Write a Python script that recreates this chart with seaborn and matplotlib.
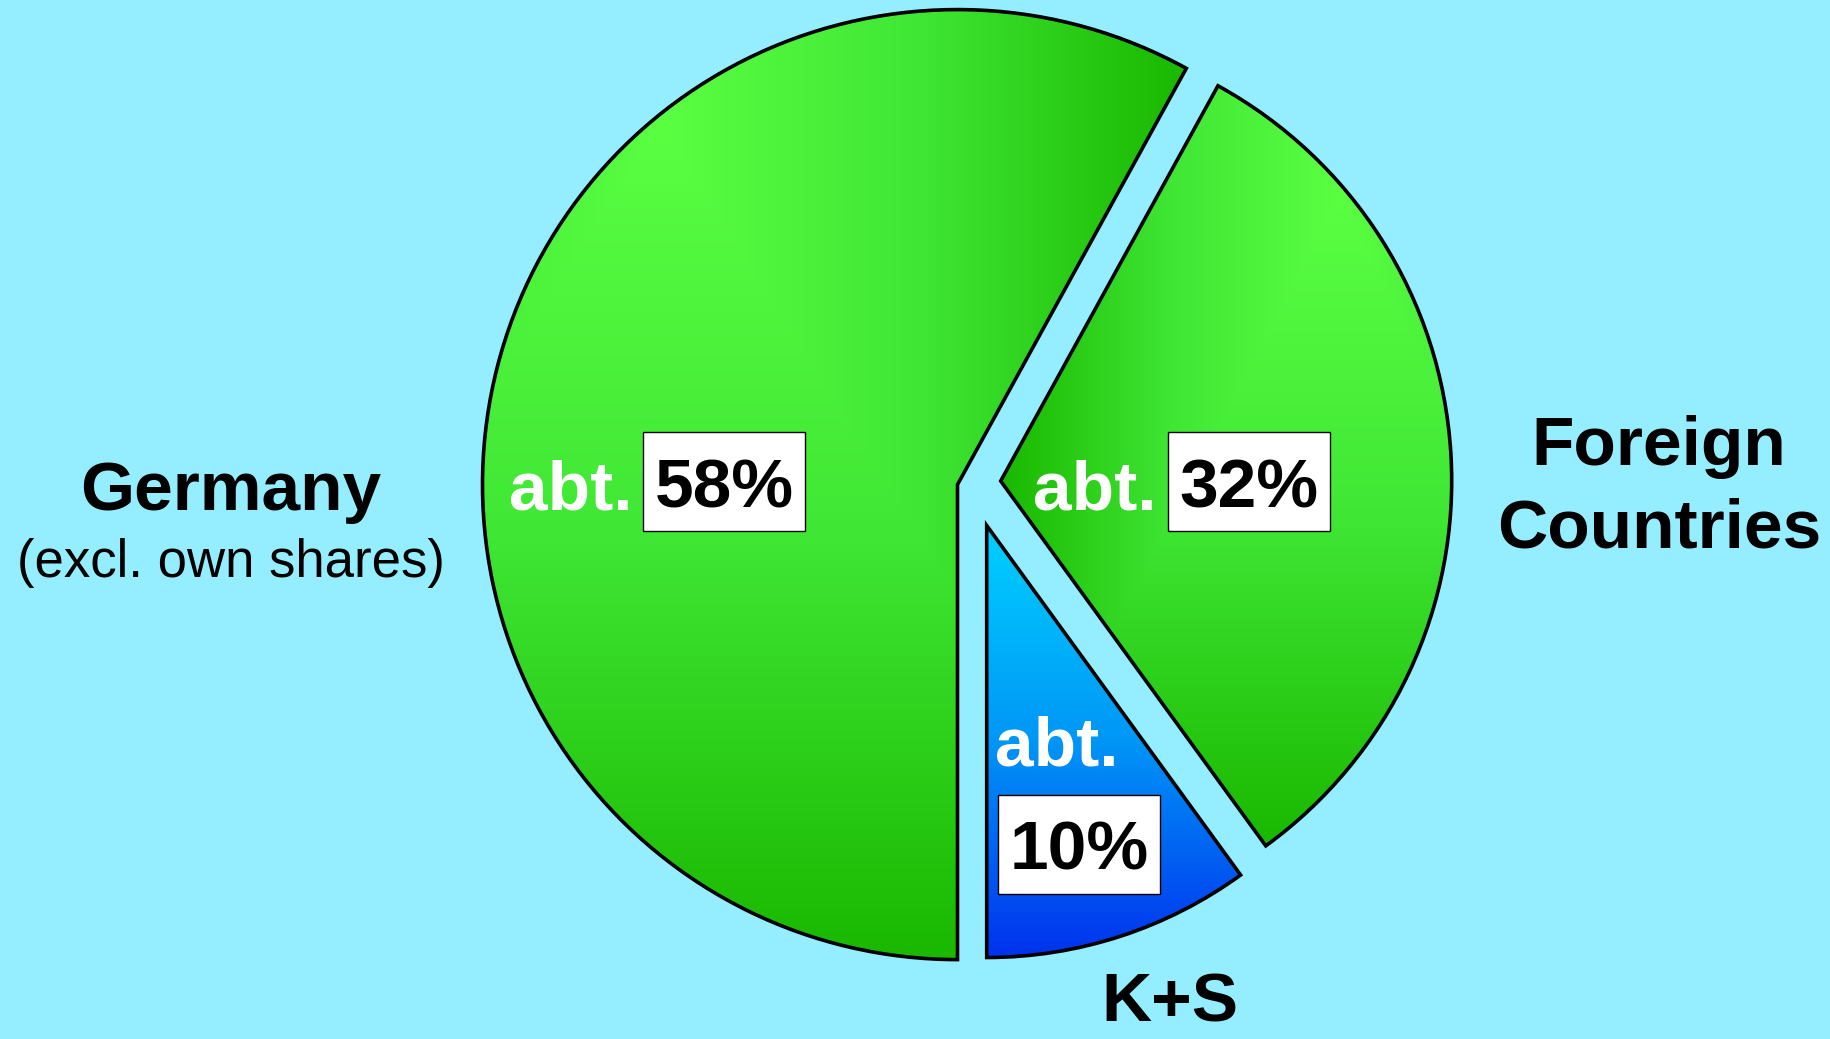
import numpy as np
import matplotlib
matplotlib.use('Agg')
import matplotlib.pyplot as plt
from matplotlib.patches import Rectangle
import seaborn as sns

# Shareholder structure
segments = ['Germany', 'Foreign\nCountries', 'K+S']
subtitles = ['(excl. own shares)', '', '']
shares = [58, 32, 10]
prefix = 'abt.'

W, H = 1831, 1039
bg = '#94eeff'

sns.set_theme(style='white')
plt.rcParams['font.family'] = ['Liberation Sans', 'DejaVu Sans']
plt.rcParams['text.color'] = 'black'

fig = plt.figure(figsize=(W / 100, H / 100), dpi=100, facecolor=bg)
ax = fig.add_axes([0, 0, 1, 1])
ax.set_facecolor(bg)

wedges, _ = ax.pie(shares, startangle=-90, counterclock=False,
                   wedgeprops=dict(edgecolor='black', linewidth=2.6, facecolor='none'))

# slice placement (pixel layout, y from top) - slices were pulled apart by hand
centers = [(957.5, 484.6), (1000.7, 481.0), (986.7, 525.5)]
radii = [475, 451, 432]

green = sns.blend_palette(['#5aff42', '#3fe634', '#1ab800'], as_cmap=True)
blue = sns.blend_palette(['#00d0ff', '#0096f6', '#0032ee'], as_cmap=True)
# brightest point of the rectangular gradient (fraction of slice bbox)
hot = [(0.25, 0.12), (0.75, 0.15), None]

for w, (cx, cy), r, h in zip(wedges, centers, radii, hot):
    w.set_center((cx, H - cy))
    w.set_radius(r)
    ext = w.get_path().get_extents()
    x0, y0, x1, y1 = ext.x0, ext.y0, ext.x1, ext.y1
    u, v = np.meshgrid(np.linspace(0, 1, 300), np.linspace(0, 1, 300))
    if h is None:
        t, cmap = v, blue
    else:
        u0, v0 = h
        du = np.abs(u - u0) / max(u0, 1 - u0)
        dv = np.abs(v - v0) / (1 - v0)
        t, cmap = np.clip(np.maximum(du, dv), 0, 1), green
    im = ax.imshow(t, cmap=cmap, vmin=0, vmax=1, extent=(x0, x1, y0, y1),
                   origin='upper', interpolation='bilinear', zorder=0.5)
    im.set_clip_path(w)

# category names
ax.text(231, H - 510, segments[0], ha='center', va='baseline', fontsize=50, weight='bold')
ax.text(231, H - 577, subtitles[0], ha='center', va='baseline', fontsize=38)
ax.text(1659, H - 465, segments[1].split('\n')[0], ha='center', va='baseline', fontsize=50, weight='bold')
ax.text(1659, H - 548, segments[1].split('\n')[1], ha='center', va='baseline', fontsize=50, weight='bold')
ax.text(1170, H - 1022, segments[2], ha='center', va='baseline', fontsize=50, weight='bold')

# value labels: "abt." + boxed percentage
prefix_pos = [(571, 509), (1095, 509), (1057, 765)]
box_pos = [(724, 481.5), (1249, 481.5), (1079, 844)]
bw, bh = 162, 99
for s, (px, py), (bx, by) in zip(shares, prefix_pos, box_pos):
    ax.text(px, H - py, prefix, ha='center', va='baseline', fontsize=50,
            weight='bold', color='white')
    ax.add_patch(Rectangle((bx - bw / 2, H - by - bh / 2), bw, bh, facecolor='white',
                           edgecolor='black', linewidth=1, zorder=4))
    ax.text(bx, H - by - 26, f'{s}%', ha='center', va='baseline', fontsize=50,
            weight='bold', color='black', zorder=5)

ax.set_xlim(0, W)
ax.set_ylim(0, H)
ax.set_aspect('equal')
ax.axis('off')

fig.savefig('out.png', dpi=100, facecolor=bg)
